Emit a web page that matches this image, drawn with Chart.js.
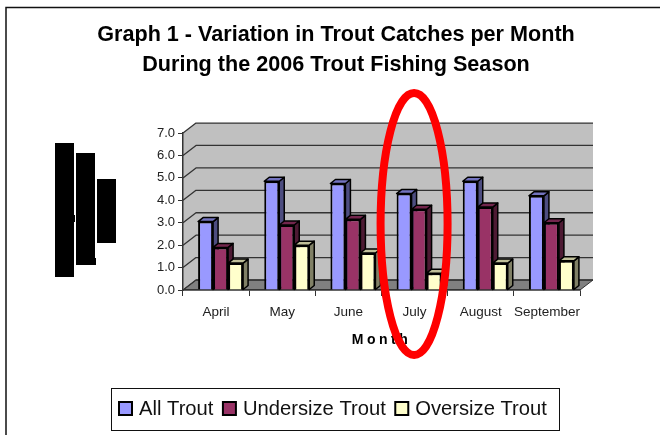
<!DOCTYPE html>
<html>
<head>
<meta charset="utf-8">
<title>Trout catches</title>
<style>
body { margin: 0; background: #fff; }
canvas { display: block; }
</style>
<script src="https://cdn.jsdelivr.net/npm/chart.js@4"></script>
</head>
<body>
<canvas id="troutChart" width="660" height="435"></canvas>
<script>
const months = ['April', 'May', 'June', 'July', 'August', 'September'];
const allTrout = [3.05, 4.85, 4.75, 4.3, 4.85, 4.2];
const undersizeTrout = [1.9, 2.9, 3.15, 3.6, 3.7, 3.0];
const oversizeTrout = [1.2, 2.0, 1.65, 0.75, 1.2, 1.3];
const yTicks = [0, 1, 2, 3, 4, 5, 6, 7];

const FONT = '"Liberation Sans", Arial, sans-serif';
const DEPTH_X = 13, DEPTH_Y = 10;   // back wall offset
const BAR_DX = 5, BAR_DY = 4;       // bar extrusion
const BAR_SHIFT = 4.5;              // bars sit mid-way in the depth

// faces per series: [top, side]
const faces = [['#7373BF', '#4D4D80'], ['#73264D', '#4D1A33'], ['#BFBF99', '#808066']];

function poly(ctx, pts, fill, stroke, lw) {
    ctx.beginPath();
    pts.forEach((p, i) => i ? ctx.lineTo(p[0], p[1]) : ctx.moveTo(p[0], p[1]));
    ctx.closePath();
    ctx.fillStyle = fill;
    ctx.fill();
    if (stroke) {
        ctx.strokeStyle = stroke;
        ctx.lineWidth = lw;
        ctx.lineJoin = 'round';
        ctx.stroke();
    }
}

// Legend with a tighter swatch/text gap than the built-in one
function drawLegend(chart) {
    const ctx = chart.ctx;
    ctx.strokeStyle = '#111';
    ctx.lineWidth = 1;
    ctx.strokeRect(111.5, 388.5, 448, 42);

    ctx.font = '20.2px ' + FONT;
    ctx.textAlign = 'left';
    ctx.textBaseline = 'alphabetic';
    let lx = 119;
    chart.data.datasets.forEach(ds => {
        ctx.fillStyle = ds.backgroundColor;
        ctx.fillRect(lx, 402, 13, 13);
        ctx.strokeStyle = '#000';
        ctx.lineWidth = 2;
        ctx.strokeRect(lx, 402, 13, 13);
        ctx.fillStyle = '#111';
        ctx.fillText(ds.label, lx + 20, 415);
        lx += 20 + ctx.measureText(ds.label).width + 9.5;
    });
}

// Fake 3D box: walls, floor, and the top/side faces of each bar
const box3d = {
    id: 'box3d',
    beforeDraw(chart) {
        const { ctx, chartArea: a, scales: { y } } = chart;
        ctx.save();
        ctx.fillStyle = '#fff';
        ctx.fillRect(0, 0, chart.width, chart.height);

        // page frame
        ctx.strokeStyle = '#111';
        ctx.lineWidth = 1.5;
        ctx.beginPath();
        ctx.moveTo(6, 435);
        ctx.lineTo(6, 7.5);
        ctx.lineTo(660, 7.5);
        ctx.stroke();

        poly(ctx, [[a.left, a.top], [a.left + DEPTH_X, a.top - DEPTH_Y], [a.right + DEPTH_X, a.top - DEPTH_Y],
            [a.right + DEPTH_X, a.bottom - DEPTH_Y], [a.left + DEPTH_X, a.bottom - DEPTH_Y], [a.left, a.bottom]], '#C0C0C0');
        poly(ctx, [[a.left, a.bottom], [a.left + DEPTH_X, a.bottom - DEPTH_Y], [a.right + DEPTH_X, a.bottom - DEPTH_Y], [a.right, a.bottom]], '#808080', '#333', 1);

        ctx.strokeStyle = '#333';
        ctx.lineWidth = 1.3;
        yTicks.forEach(t => {
            const py = y.getPixelForValue(t);
            ctx.beginPath();
            ctx.moveTo(a.left, py);
            ctx.lineTo(a.left + DEPTH_X, py - DEPTH_Y);
            ctx.lineTo(a.right + DEPTH_X, py - DEPTH_Y);
            ctx.stroke();
        });
        ctx.restore();
    },
    beforeDatasetsDraw(chart) {
        const ctx = chart.ctx;
        ctx.save();
        ctx.translate(BAR_SHIFT, 0);
        months.forEach((m, i) => {
            chart.data.datasets.forEach((ds, d) => {
                const b = chart.getDatasetMeta(d).data[i];
                const r = b.x + b.width / 2, l = b.x - b.width / 2;
                poly(ctx, [[r, b.y], [r + BAR_DX, b.y - BAR_DY], [r + BAR_DX, b.base - BAR_DY], [r, b.base]], faces[d][1], '#000', 1.5);
                poly(ctx, [[l, b.y], [l + BAR_DX, b.y - BAR_DY], [r + BAR_DX, b.y - BAR_DY], [r, b.y]], faces[d][0], '#000', 1.5);
            });
        });
    },
    afterDatasetsDraw(chart) {
        chart.ctx.restore();
    },
    afterDraw(chart) {
        const { ctx, chartArea: a, scales: { x } } = chart;
        ctx.save();

        drawLegend(chart);

        // x axis title, spaced out
        ctx.fillStyle = '#000';
        ctx.font = 'bold 14px ' + FONT;
        ctx.textAlign = 'center';
        ctx.textBaseline = 'middle';
        ctx.letterSpacing = '3.5px';
        ctx.fillText('Month', (a.left + a.right) / 2, 340);
        ctx.letterSpacing = '0px';

        // blacked-out axis title
        ctx.fillStyle = '#000';
        ctx.fillRect(55, 143, 19, 134);
        ctx.fillRect(76, 153, 19, 112);
        ctx.fillRect(97, 179, 19, 64);
        ctx.fillRect(74, 215, 1, 7);
        ctx.fillRect(95, 258, 1, 7);

        // July highlight
        ctx.strokeStyle = '#FF0000';
        ctx.lineWidth = 8;
        ctx.beginPath();
        ctx.ellipse(x.getPixelForValue(3) - 0.5, 224, 33.5, 131, 0, 0, Math.PI * 2);
        ctx.stroke();
        ctx.restore();
    }
};

function makeSet(label, data, color) {
    return { label, data, backgroundColor: color, borderColor: '#000', borderWidth: 2, categoryPercentage: 0.68, barPercentage: 1 };
}

new Chart(document.getElementById('troutChart'), {
    type: 'bar',
    data: {
        labels: months,
        datasets: [
            makeSet('All Trout', allTrout, '#9999FF'),
            makeSet('Undersize Trout', undersizeTrout, '#993366'),
            makeSet('Oversize Trout', oversizeTrout, '#FFFFCC')
        ]
    },
    options: {
        responsive: false,
        animation: false,
        layout: { autoPadding: false, padding: { left: 12, top: 0, right: 0, bottom: 0 } },
        plugins: {
            tooltip: { enabled: false },
            legend: { display: false },
            title: {
                display: true,
                text: ['Graph 1 - Variation in Trout Catches per Month', 'During the 2006 Trout Fishing Season'],
                color: '#000',
                font: { family: FONT, size: 21.6, weight: 'bold', lineHeight: 1.39 },
                padding: { top: 20, bottom: 53 }
            }
        },
        scales: {
            x: {
                grid: { drawOnChartArea: false, color: '#333', tickLength: 6 },
                border: { color: '#333', width: 1.5 },
                ticks: { color: '#222', padding: 8, maxRotation: 0, autoSkip: false, font: { family: FONT, size: 13.5 } },
                afterFit(s) { s.height = 145; }
            },
            y: {
                min: 0,
                max: 7,
                grid: { drawOnChartArea: false, color: '#333', tickLength: 5 },
                border: { color: '#333', width: 1.5 },
                ticks: { color: '#222', padding: 3, stepSize: 1, callback: v => yTicks.includes(v) ? v.toFixed(1) : '', font: { family: FONT, size: 13 } },
                afterFit(s) { s.width = 171; }
            },
            // keeps the plot clear of the right edge without moving the title
            spacer: {
                position: 'right',
                grid: { display: false },
                border: { display: false },
                ticks: { display: false },
                afterFit(s) { s.width = 80; }
            }
        }
    },
    plugins: [box3d]
});
</script>
</body>
</html>
